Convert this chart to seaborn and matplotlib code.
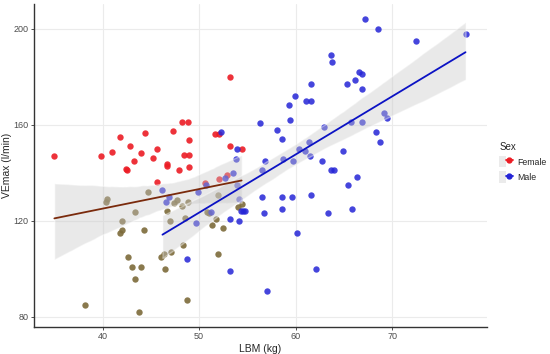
import matplotlib
matplotlib.use("Agg")
import matplotlib.pyplot as plt
import numpy as np
import pandas as pd
import seaborn as sns
from matplotlib.lines import Line2D
from matplotlib.patches import Patch
from matplotlib.legend_handler import HandlerTuple

# Female points (drawn red)
female_red_lbm = [35.0, 39.8, 41.0, 41.8, 42.8, 42.4, 42.5, 43.2, 44.0, 44.4, 45.2, 45.6,
                  46.7, 46.7, 47.3, 47.9, 48.2, 48.8, 48.9, 48.4, 48.9, 49.0, 45.6, 51.6,
                  52.1, 53.2, 53.2, 54.4, 52.1, 52.9, 50.6]
female_red_ve = [146.8, 146.8, 148.7, 154.9, 151.3, 141.5, 141.0, 145.0, 148.3, 156.7, 146.2, 150.0,
                 143.7, 142.6, 157.4, 141.2, 161.3, 161.3, 153.8, 147.5, 147.5, 142.5, 136.1, 156.3,
                 156.3, 180.0, 151.0, 150.0, 137.5, 138.9, 135.8]

# Female points (drawn brownish)
female_brown_lbm = [40.5, 40.4, 44.7, 43.4, 42.0, 42.0, 41.8, 44.3, 42.6, 43.0, 44.0, 43.4,
                    38.2, 43.8, 47.4, 47.7, 48.2, 48.8, 46.7, 47.0, 48.5, 48.3, 47.1, 46.4,
                    46.1, 46.5, 48.7, 52.0, 50.8, 51.0, 51.7, 51.3, 52.5, 52.0, 54.0, 54.4]
female_brown_ve = [129.0, 127.6, 132.0, 123.7, 119.8, 116.2, 115.0, 116.2, 104.9, 100.7, 100.7, 95.9,
                   84.8, 81.9, 127.4, 128.5, 126.3, 127.8, 123.9, 119.8, 121.3, 110.0, 106.9, 106.0,
                   104.9, 100.0, 87.0, 130.9, 123.7, 123.0, 120.9, 118.1, 116.9, 106.0, 125.7, 126.8]

# Male points
male_lbm = [46.2, 46.9, 46.6, 49.9, 50.7, 51.2, 52.3, 53.9, 53.8, 53.5, 52.7, 53.9,
            54.1, 53.2, 54.1, 54.3, 54.5, 54.7, 49.7, 48.7, 53.2, 57.0, 56.5, 56.7,
            56.5, 56.8, 56.3, 58.1, 67.2, 68.5, 72.5, 77.6, 63.7, 63.8, 61.6, 65.3,
            66.2, 66.6, 66.9, 66.9, 59.9, 59.3, 61.1, 61.6, 59.4, 58.6, 62.9, 65.7,
            66.9, 69.2, 69.5, 68.3, 68.7, 60.3, 61.0, 61.4, 61.5, 58.7, 59.7, 64.9,
            62.7, 63.7, 64.0, 66.4, 65.4, 58.6, 59.6, 61.6, 58.6, 63.3, 65.8, 60.1, 62.1]
male_ve = [132.9, 129.9, 127.8, 131.8, 135.0, 123.5, 157.0, 150.0, 145.9, 140.0, 137.9, 134.7,
           128.9, 120.9, 119.8, 124.1, 124.1, 124.1, 119.1, 103.9, 98.9, 90.9, 129.9, 123.0,
           141.0, 145.0, 160.9, 158.0, 203.9, 200.0, 195.0, 197.9, 189.1, 186.1, 176.9, 176.9,
           178.8, 181.9, 181.1, 175.0, 172.0, 168.1, 170.0, 170.0, 162.0, 154.1, 159.1, 161.0,
           161.0, 165.0, 162.9, 157.0, 153.0, 150.0, 149.0, 153.0, 146.9, 145.9, 145.0, 149.0,
           145.0, 141.0, 141.0, 138.0, 135.0, 129.9, 129.9, 130.9, 124.9, 123.0, 124.9, 114.9, 100.0]

x_ticks = [40, 50, 60, 70]
y_ticks = [80, 120, 160, 200]

RED = "#ec1c24"
BLUE = "#2424d6"
BROWN_PT = "#7c6a3a"
FEMALE_LINE = "#7a2a0c"
MALE_LINE = "#0b12c4"
BAND = "#c8c8c8"

female = pd.DataFrame({"LBM": female_red_lbm + female_brown_lbm,
                       "VEmax": female_red_ve + female_brown_ve})
male = pd.DataFrame({"LBM": male_lbm, "VEmax": male_ve})

sns.set_style("white")
plt.rcParams["font.family"] = ["Liberation Sans", "DejaVu Sans"]

fig = plt.figure(figsize=(5.5, 3.54), dpi=100)
ax = fig.add_axes([0.062, 0.077, 0.823, 0.913])

ax.scatter(female_red_lbm, female_red_ve, s=21, color=RED, alpha=0.9, linewidth=0, zorder=2)
ax.scatter(female_brown_lbm, female_brown_ve, s=21, color=BROWN_PT, alpha=0.9, linewidth=0, zorder=2)
ax.scatter(male_lbm, male_ve, s=21, color=BLUE, alpha=0.85, linewidth=0, zorder=2)

for df, line_color in [(female, FEMALE_LINE), (male, MALE_LINE)]:
    n_before = len(ax.collections)
    sns.regplot(data=df, x="LBM", y="VEmax", scatter=False, ci=95, seed=1,
                color=line_color, line_kws={"linewidth": 1.3, "zorder": 4}, ax=ax)
    for coll in ax.collections[n_before:]:
        coll.set_facecolor(BAND)
        coll.set_alpha(0.4)
        coll.set_zorder(3)

ax.set_xlim(32.9, 79.8)
ax.set_ylim(75.8, 210.5)
ax.set_xticks(x_ticks)
ax.set_yticks(y_ticks)
ax.grid(True, color="#ebebeb", linewidth=0.8)
ax.set_axisbelow(True)
for side in ["top", "right"]:
    ax.spines[side].set_visible(False)
for side in ["left", "bottom"]:
    ax.spines[side].set_color("#333333")
    ax.spines[side].set_linewidth(1.0)
ax.tick_params(axis="both", labelsize=6.5, labelcolor="#4d4d4d", length=2.5,
               width=0.6, color="#333333", pad=1.5, left=True, bottom=True)
ax.set_xlabel("LBM (kg)", fontsize=7.5, labelpad=2)
ax.set_ylabel("VEmax (l/min)", fontsize=7.5, labelpad=1)

handles = []
for c in [RED, BLUE]:
    bg = Patch(facecolor="#ebebeb", edgecolor="none")
    ln = Line2D([], [], color=c, linewidth=1.3, marker="o", markersize=3.5)
    handles.append((bg, ln))
leg = fig.legend(handles, ["Female", "Male"], title="Sex",
                 handler_map={tuple: HandlerTuple(ndivide=None, pad=0)},
                 loc="upper left", bbox_to_anchor=(0.908, 0.598), frameon=False,
                 fontsize=6.3, title_fontsize=7, handlelength=1.5, handleheight=1.6,
                 labelspacing=0.45, handletextpad=0.5, borderaxespad=0, borderpad=0)
leg._legend_box.align = "left"

fig.savefig("out.png", dpi=100)
